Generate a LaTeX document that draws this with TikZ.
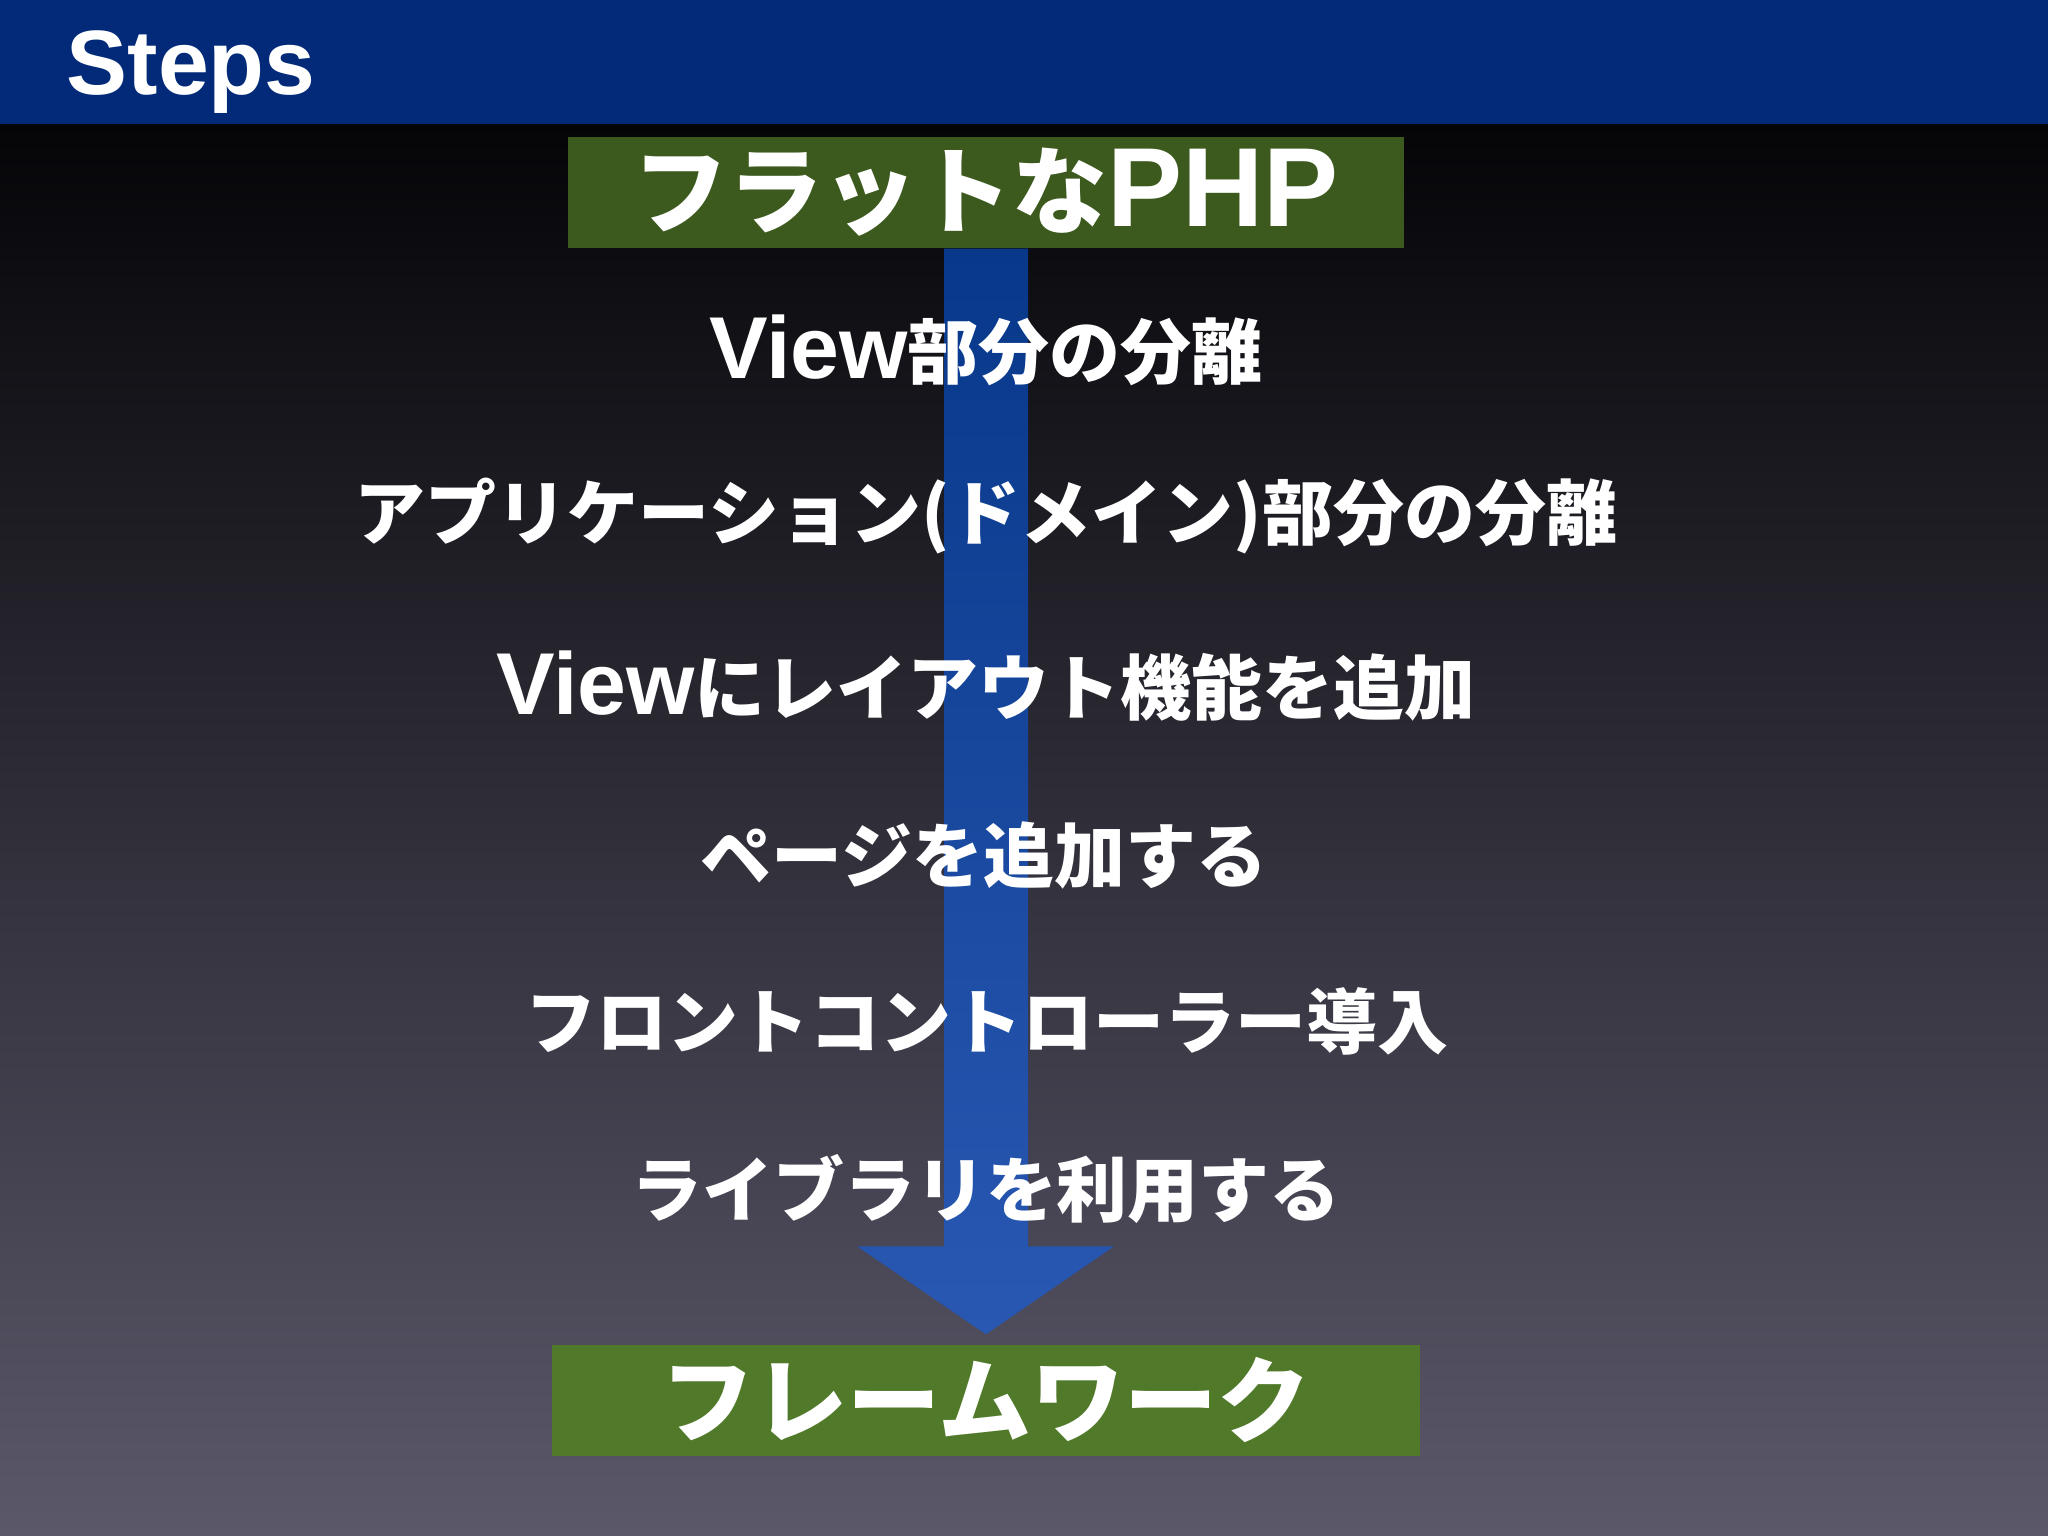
\documentclass[tikz,border=0pt]{standalone}
\usepackage{fontspec}
\setmainfont{Liberation Sans}
\newfontfamily\jp{Noto Sans CJK JP Black}
\usetikzlibrary{calc}
\definecolor{hdr}{RGB}{2,42,120}
\definecolor{bgtop}{RGB}{5,5,8}
\definecolor{bgbot}{RGB}{91,88,106}
\definecolor{gtop}{RGB}{61,90,30}
\definecolor{gbot}{RGB}{80,122,42}
\definecolor{arrtop}{RGB}{8,56,138}
\definecolor{arrbot}{RGB}{40,88,178}
\newcommand{\lat}[2]{{\normalfont\bfseries\fontsize{#1}{#1}\selectfont #2}}
\tikzset{
  box/.style={inner sep=0pt, text=white, font=\jp\fontsize{27}{30}\selectfont},
  steptext/.style={inner sep=0pt, text=white, font=\jp\fontsize{20.2}{24}\selectfont},
}
\begin{document}
\begin{tikzpicture}[x=1cm,y=1cm]
\useasboundingbox (0,0) rectangle (20.48,-15.36);
\shade[top color=bgtop, bottom color=bgbot] (0,-1.24) rectangle (20.48,-15.36);
\fill[hdr] (0,0) rectangle (20.48,-1.24);
\node[anchor=west, inner sep=0pt, text=white, font=\bfseries\fontsize{26}{30}\selectfont] (title) at (0.66,-0.72) {Steps};

\node[box, fill=gtop, minimum width=8.36cm, minimum height=1.11cm] (start) at (9.86,-1.925)
  {フラットな\lat{32}{PHP}};
\node[box, fill=gbot, minimum width=8.68cm, minimum height=1.11cm, font=\jp\fontsize{26.5}{30}\selectfont] (end) at (9.86,-14.005)
  {フレームワーク};

\coordinate (tip) at ($(end.north)+(0,0.10)$);
\shade[top color=arrtop, bottom color=arrbot]
  ($(start.south)+(-0.42,0)$) -- ($(start.south)+(0.42,0)$)
  -- ($(tip)+(0.42,0.88)$) -- ($(tip)+(1.28,0.88)$) -- (tip)
  -- ($(tip)+(-1.29,0.88)$) -- ($(tip)+(-0.42,0.88)$) -- cycle;

\node[steptext] (s1) at (9.86,-3.50) {\lat{25}{View}部分の分離};
\node[steptext] (s2) at (9.86,-5.16) {アプリケーション(ドメイン)部分の分離};
\node[steptext] (s3) at (9.86,-6.86) {\lat{25}{View}にレイアウト機能を追加};
\node[steptext] (s4) at (9.84,-8.55) {ページを追加する};
\node[steptext] (s5) at (9.87,-10.21) {フロントコントローラー導入};
\node[steptext] (s6) at (9.86,-11.89) {ライブラリを利用する};
\end{tikzpicture}
\end{document}
